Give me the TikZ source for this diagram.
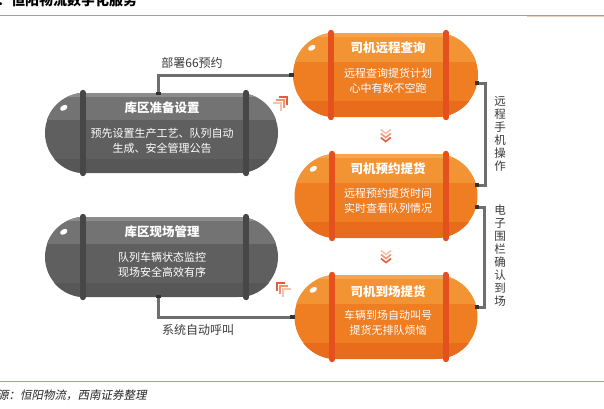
\documentclass[tikz,border=0pt]{standalone}
\usepackage{fontspec}
\setmainfont{Noto Sans CJK SC}
\newfontfamily\cjkit{Noto Sans CJK SC}[FakeSlant=0.2]
\usetikzlibrary{calc,shapes.geometric}
\definecolor{gbase}{HTML}{5F5F5F}
\definecolor{gtop}{HTML}{737373}
\definecolor{grim}{HTML}{8C8C8C}
\definecolor{gbot}{HTML}{575757}
\definecolor{gstrap}{HTML}{474747}
\definecolor{obase}{HTML}{EF7D22}
\definecolor{otop}{HTML}{F39434}
\definecolor{orim}{HTML}{F6A450}
\definecolor{obot}{HTML}{E96C1D}
\definecolor{ostrap}{HTML}{E5501F}
\definecolor{conncol}{HTML}{6E6E6E}
\definecolor{capcol}{HTML}{333333}
\definecolor{rulecol}{HTML}{C99A55}
\definecolor{chA}{HTML}{F6C2AE}
\definecolor{chB}{HTML}{EE9478}
\definecolor{chC}{HTML}{DD5F40}
\definecolor{labcol}{HTML}{3A3A3A}
\tikzset{
  conn/.style={draw=conncol, line width=3pt},
  ptitle/.style={text=white, font=\fontsize{12.5}{14}\selectfont\bfseries, inner sep=0pt},
  pdesc/.style={text=white, font=\fontsize{11}{15}\selectfont, align=center, inner sep=0pt},
  lab/.style={text=labcol, font=\fontsize{12}{14}\selectfont, inner sep=0pt},
  vlab/.style={text=labcol, font=\fontsize{11.5}{13}\selectfont, align=center, text width=12pt, inner sep=0pt},
  chev/.style={line width=1.6pt},
}
% #1 name, #2 x, #3 y, #4 width, #5 height, #6 radius, #7 colour prefix
\newcommand\pill[7]{%
  \node[minimum width=#4pt, minimum height=#5pt, inner sep=0pt, fill=#7base, rounded corners=#6pt] (#1) at (#2,#3) {};
  \begin{scope}
    \clip[rounded corners=#6pt] (#1.north west) rectangle (#1.south east);
    \fill[#7top] (#1.north west) rectangle ($(#1.east)+(0,-13)$);
    \fill[#7rim] (#1.north west) rectangle ($(#1.north east)+(0,4)$);
    \fill[#7bot] ($(#1.west)+(0,26)$) rectangle (#1.south east);
  \end{scope}
  \draw[line width=6pt, line cap=round, #7strap] ($(#1.north west)+(38,0)$) -- ($(#1.south west)+(38,0)$);
  \draw[line width=6pt, line cap=round, #7strap] ($(#1.north east)+(-32,0)$) -- ($(#1.south east)+(-32,0)$);
  \node[ellipse, fill=white, minimum width=8pt, minimum height=5pt, inner sep=0pt, rotate=30] (#1hl) at ($(#1.north west)+(19,15)$) {};
}
\begin{document}
\begin{tikzpicture}[x=1pt,y=-1pt]
\useasboundingbox (0,0) rectangle (604,408);
\clip (0,0) rectangle (604,408);
\fill[white] (0,0) rectangle (604,408);
% header & footer
\node[anchor=base west, font=\fontsize{14}{16}\selectfont\bfseries, inner sep=0pt] (hdr) at (-3,5) {：恒阳物流数字化服务};
\draw[rulecol, line width=0.9pt] (0,15) -- (604,15);
\draw[rulecol!45, line width=0.9pt] (527,16) -- (604,16);
\draw[rulecol, line width=0.9pt] (0,381.5) -- (604,381.5);
\node[anchor=base west, font=\fontsize{11.5}{13}\selectfont\cjkit, inner sep=0pt, text=black!85] (src) at (-3,399.5) {源：恒阳物流，西南证券整理};

% gray pills
\pill{g1}{161.5}{133}{233}{80}{40}{g}
\node[ptitle] (g1t) at (162,108) {库区准备设置};
\node[pdesc] (g1d) at (162,141) {预先设置生产工艺、队列自动\\生成、安全管理公告};
\pill{g2}{161.5}{257}{233}{80}{40}{g}
\node[ptitle] (g2t) at (162,232) {库区现场管理};
\node[pdesc] (g2d) at (162,265) {队列车辆状态监控\\现场安全高效有序};

% orange pills
\pill{o1}{385.5}{75}{185}{84}{42}{o}
\node[ptitle] (o1t) at (388,48) {司机远程查询};
\node[pdesc] (o1d) at (388,80.5) {远程查询提货计划\\心中有数不空跑};
\pill{o2}{386}{196}{183}{84}{42}{o}
\node[ptitle] (o2t) at (388,169) {司机预约提货};
\node[pdesc] (o2d) at (388,201) {远程预约提货时间\\实时查看队列情况};
\pill{o3}{386}{317}{183}{84}{42}{o}
\node[ptitle] (o3t) at (388,292) {司机到场提货};
\node[pdesc] (o3d) at (388,322.5) {车辆到场自动叫号\\提货无排队烦恼};

% connectors left
\coordinate (c1s) at ($(g1.north)+(-3,0)$);
\coordinate (c2s) at ($(g2.south)+(-3,0)$);
\draw[conn] (c1s) |- (o1.west);
\draw[conn] (c2s) |- (o3.west);
\fill[capcol] ($(c1s)+(-2.5,-1)$) rectangle ($(c1s)+(2.5,2)$);
\fill[capcol] ($(c2s)+(-2.5,1)$) rectangle ($(c2s)+(2.5,-2)$);
\fill[capcol] ($(o1.west)+(-4,-2)$) rectangle ($(o1.west)+(1,2)$);
\fill[capcol] ($(o3.west)+(-4,-2)$) rectangle ($(o3.west)+(1,2)$);
\node[lab] (l1) at (192,63) {部署66预约};
\node[lab] (l2) at (198,330) {系统自动呼叫};

% right brackets
\coordinate (b1a) at ($(o1.east)+(-2,8)$);
\coordinate (b1b) at ($(o2.east)+(-2,-11)$);
\coordinate (b2a) at ($(o2.east)+(-2,11)$);
\coordinate (b2b) at ($(o3.east)+(-2,-10)$);
\draw[conn] (b1a) -- ++(9,0) |- (b1b);
\draw[conn] (b2a) -- ++(9,0) |- (b2b);
\foreach \p in {b1a,b1b,b2a,b2b}{\fill[capcol] ($(\p)+(-1,-2)$) rectangle ($(\p)+(3,2)$);}
\node[vlab] (v1) at (500,133.5) {远\\程\\手\\机\\操\\作};
\node[vlab] (v2) at (500,255.5) {电\\子\\围\\栏\\确\\认\\到\\场};

% chevrons between orange pills
\coordinate (m1) at ($(o1.south)!0.5!(o2.north)$);
\coordinate (m2) at ($(o2.south)!0.5!(o3.north)$);
\foreach \m in {m1,m2}{
  \draw[chev, chA] ($(\m)+(-5,-6)$) -- ($(\m)+(0,-2)$) -- ($(\m)+(5,-6)$);
  \draw[chev, chB] ($(\m)+(-5,-2)$) -- ($(\m)+(0,2)$) -- ($(\m)+(5,-2)$);
  \draw[chev, chC] ($(\m)+(-5,2)$) -- ($(\m)+(0,6)$) -- ($(\m)+(5,2)$);
}
% corner chevrons
\coordinate (k1) at (287,97);
\draw[chev, chC] ($(k1)+(-8,0)$) -- (k1) -- ($(k1)+(0,8)$);
\draw[chev, chB] ($(k1)+(-11,3)$) -- ($(k1)+(-3,3)$) -- ($(k1)+(-3,11)$);
\draw[chev, chA] ($(k1)+(-14,6)$) -- ($(k1)+(-6,6)$) -- ($(k1)+(-6,14)$);
\coordinate (k2) at (277,283);
\draw[chev, chC] ($(k2)+(8,0)$) -- (k2) -- ($(k2)+(0,8)$);
\draw[chev, chB] ($(k2)+(11,3)$) -- ($(k2)+(3,3)$) -- ($(k2)+(3,11)$);
\draw[chev, chA] ($(k2)+(14,6)$) -- ($(k2)+(6,6)$) -- ($(k2)+(6,14)$);
\end{tikzpicture}
\end{document}
